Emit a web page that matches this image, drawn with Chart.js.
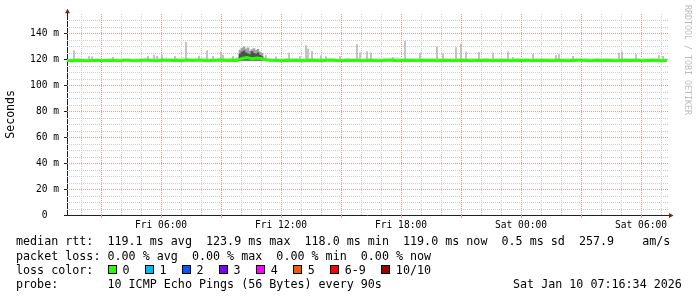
<!DOCTYPE html>
<html>
<head>
<meta charset="utf-8">
<script src="https://cdn.jsdelivr.net/npm/chart.js@4/dist/chart.umd.min.js"></script>
<style>
  body { margin: 0; background: #fff; }
  #wrap { position: relative; width: 697px; height: 297px; font-family: 'DejaVu Sans Mono', monospace; color: #000; }
  #wrap canvas { position: absolute; left: 0; top: 0; }
  .ln { position: absolute; font-size: 11.7px; line-height: 14px; white-space: pre; }
  .box { position: absolute; width: 9px; height: 9px; box-sizing: border-box; border: 1px solid #000; }
  #mark { position: absolute; left: 683px; top: 5px; writing-mode: vertical-rl; font-size: 8.3px; line-height: 9px; color: #bcbcbc; white-space: pre; }
</style>
</head>
<body>
<div id="wrap">
  <canvas id="smoke" width="697" height="297"></canvas>
  <div class="ln" style="left:16px; top:234px">median rtt:  119.1 ms avg  123.9 ms max  118.0 ms min  119.0 ms now  0.5 ms sd  257.9    am/s</div>
  <div class="ln" style="left:16px; top:249px">packet loss: 0.00 % avg  0.00 % max  0.00 % min  0.00 % now</div>
  <div class="ln" style="left:16px; top:263px" id="lossLine">loss color:</div>
  <div class="ln" style="left:16px; top:277px">probe:       10 ICMP Echo Pings (56 Bytes) every 90s</div>
  <div class="ln" style="left:513px; top:277px">Sat Jan 10 07:16:34 2026</div>
  <div id="mark">RRDTOOL / TOBI OETIKER</div>
</div>
<script>
// time axis in hours counted from Fri 00:00
const dayNames = ['Fri', 'Sat'];
const axisStart = 1.3;
const axisEnd = 31.3;

// median rtt (ms), one sample every 15 minutes from axisStart
const sampleStart = 1.3;
const sampleStep = 0.25;
const medianRtt = [
  119.0, 118.9, 119.1, 119.0, 118.8, 119.0, 119.2, 118.9, 119.0, 119.1,
  118.9, 119.0, 119.3, 119.0, 118.8, 119.1, 119.2, 119.0, 118.9, 119.1,
  119.2, 119.0, 119.1, 118.9, 119.3, 119.0, 119.1, 119.2, 118.9, 119.0,
  119.1, 119.3, 119.0, 119.2, 119.1, 120.6, 121.2, 120.4, 121.0, 120.3,
  119.4, 119.1, 119.0, 118.9, 119.1, 119.0, 119.2, 118.8, 119.0, 119.1,
  119.0, 118.9, 119.1, 119.2, 119.0, 118.9, 119.1, 119.0, 119.2, 118.9,
  119.0, 119.1, 118.9, 119.0, 119.2, 119.1, 118.9, 119.0, 119.1, 119.0,
  118.9, 119.1, 119.0, 119.2, 118.9, 119.0, 119.1, 118.8, 119.0, 119.1,
  119.0, 118.9, 119.1, 119.0, 119.2, 118.9, 119.0, 119.1, 119.0, 118.9,
  119.1, 119.0, 119.2, 118.9, 119.0, 119.1, 119.0, 118.8, 119.1, 119.0,
  118.9, 119.0, 119.1, 119.2, 119.0, 118.9, 119.1, 119.0, 119.2, 119.0,
  118.9, 119.1, 119.0, 119.0, 119.2, 118.9, 119.0, 119.1, 119.0, 118.9, 119.0
];
// upper edge of the light smoke band, same sampling
const smokeTop = [
  120.0, 120.2, 120.8, 120.1, 120.3, 120.0, 120.6, 120.2, 120.1, 120.4,
  120.2, 120.5, 120.1, 120.3, 120.7, 121.2, 121.5, 120.9, 121.3, 121.0,
  121.4, 120.8, 121.1, 121.6, 120.9, 121.2, 121.0, 121.5, 121.3, 120.9,
  121.2, 121.4, 121.0, 121.3, 121.6, 122.0, 122.5, 122.0, 122.4, 121.8,
  121.0, 120.8, 121.2, 120.6, 121.0, 121.4, 120.9, 121.1, 121.3, 120.7,
  121.0, 121.2, 120.8, 121.1, 120.6, 120.9, 121.3, 121.0, 120.7, 121.2,
  121.4, 120.8, 121.0, 121.5, 120.9, 121.1, 121.6, 121.0, 120.8, 121.2,
  121.3, 120.9, 121.1, 120.7, 121.4, 121.0, 120.8, 121.2, 120.6, 121.0,
  120.8, 121.1, 120.6, 120.9, 121.2, 120.7, 121.0, 120.8, 120.5, 120.9,
  120.7, 121.0, 120.6, 120.8, 121.1, 120.5, 120.9, 121.2, 120.7, 120.6,
  120.9, 121.0, 120.6, 120.8, 121.1, 120.7, 120.9, 120.5, 120.8, 121.0,
  120.6, 120.9, 121.2, 120.7, 120.8, 121.0, 120.6, 120.9, 121.1, 120.7, 120.8
];
const smokeFloor = 118.2;

// single slow pings (smoke spikes)
const spikeHours = [
  1.65, 2.4, 2.55, 3.6, 5.35, 5.65, 5.8, 6.05, 6.7, 7.25,
  7.9, 8.3, 8.6, 9.0, 9.1, 9.6, 11.25, 11.75, 12.4, 12.95,
  13.25, 13.35, 13.55, 14.0, 14.25, 14.95, 15.8, 15.95, 16.3, 16.5,
  17.6, 18.2, 18.95, 19.8, 20.1, 20.75, 21.0, 21.25, 21.9, 22.6,
  23.35, 23.6, 24.6, 25.75, 25.9, 26.6, 28.9, 29.05, 29.75, 30.9, 31.1
];
const spikeTops = [
  126.6, 122.0, 121.8, 121.5, 122.5, 123.0, 122.4, 123.0, 122.3, 133.0,
  122.5, 126.6, 122.3, 125.5, 123.2, 122.2, 123.0, 121.8, 124.8, 122.0,
  130.4, 128.0, 126.0, 122.7, 122.0, 122.0, 131.2, 125.0, 125.8, 125.0,
  121.5, 133.7, 124.7, 129.6, 124.2, 129.0, 131.7, 125.5, 125.2, 124.7,
  125.6, 121.5, 124.0, 123.0, 123.5, 122.2, 124.7, 125.6, 123.5, 123.0, 122.2
];
const spikeBase = 119.0;

// jittery stretch around Fri 11:00
const burstHours = [9.95, 10.05, 10.15, 10.25, 10.35, 10.45, 10.55, 10.65, 10.75, 10.85, 10.95, 11.05];
const burstOuter = [127.0, 128.5, 129.5, 127.8, 128.8, 126.5, 127.5, 128.2, 126.8, 127.6, 125.5, 124.5];
const burstCore  = [124.0, 125.5, 126.5, 125.0, 124.2, 123.5, 125.8, 124.6, 123.8, 125.0, 123.0, 122.0];
const burstBase = 119.3;

// y axis (ms)
const yMax = 155;
const yStep = 5;
const yLabelEvery = 20;

const lossLabels = ['0', '1', '2', '3', '4', '5', '6-9', '10/10'];
const lossColors = ['#26ff00', '#00b8ff', '#0059ff', '#7e00ff', '#ff00ff', '#ff5500', '#ff0000', '#a10000'];

const minorGrid = '#cccccc';
const majorGrid = '#ea9595';
const axisColor = '#1f1f1f';
const arrowColor = '#801f1f';
const mono = "'DejaVu Sans Mono', monospace";

const sampleHours = medianRtt.map((v, i) => sampleStart + i * sampleStep);
const hourTicks = [];
for (let h = Math.ceil(axisStart); h <= axisEnd; h++) hourTicks.push(h);

// loss colour legend
const lossLine = document.getElementById('lossLine');
let lx = 92;
lossLabels.forEach((lab, i) => {
  const b = document.createElement('span');
  b.className = 'box';
  b.style.left = lx + 'px';
  b.style.top = '2px';
  b.style.background = lossColors[i];
  lossLine.appendChild(b);
  const t = document.createElement('span');
  t.style.position = 'absolute';
  t.style.left = (lx + 14.5) + 'px';
  t.textContent = lab;
  lossLine.appendChild(t);
  lx += 14.5 + lab.length * 7.04 + 15.5;
});

// rrdtool style dotted grid, taken from the scales' own ticks
const dottedGrid = {
  id: 'dottedGrid',
  beforeDatasetsDraw(chart) {
    const {ctx, chartArea: a, scales: {x, y}} = chart;
    ctx.save();
    ctx.lineWidth = 1;
    ctx.setLineDash([1, 1]);
    const minorX = x.ticks.filter(t => t.value % 3 !== 0);
    const majorX = x.ticks.filter(t => t.value % 3 === 0);
    const minorY = y.ticks.filter(t => t.value > 0 && t.value < yMax && t.value % yLabelEvery !== 0);
    const majorY = y.ticks.filter(t => t.value > 0 && t.value < yMax && t.value % yLabelEvery === 0);
    const vLines = (list, color) => {
      ctx.strokeStyle = color;
      ctx.beginPath();
      list.forEach(t => {
        const px = Math.round(x.getPixelForValue(t.value)) + 0.5;
        ctx.moveTo(px, a.bottom); ctx.lineTo(px, a.top);
      });
      ctx.stroke();
    };
    const hLines = (list, color) => {
      ctx.strokeStyle = color;
      ctx.beginPath();
      list.forEach(t => {
        const py = Math.round(y.getPixelForValue(t.value)) + 0.5;
        ctx.moveTo(a.left, py); ctx.lineTo(a.right + 2, py);
      });
      ctx.stroke();
    };
    vLines(minorX, minorGrid);
    hLines(minorY, minorGrid);
    vLines(majorX, majorGrid);
    hLines(majorY, majorGrid);
    ctx.restore();
  }
};

const axisMarks = {
  id: 'axisMarks',
  afterDraw(chart) {
    const {ctx, chartArea: a, scales: {x, y}} = chart;
    ctx.save();
    ctx.lineWidth = 1;
    ctx.strokeStyle = majorGrid;
    x.ticks.forEach(t => {
      if (t.value % 3 === 0) {
        const px = Math.round(x.getPixelForValue(t.value)) + 0.5;
        ctx.beginPath(); ctx.moveTo(px, a.bottom); ctx.lineTo(px, a.bottom + 3); ctx.stroke();
      }
    });
    ctx.strokeStyle = axisColor;
    y.ticks.forEach(t => {
      if (t.value % yLabelEvery === 0) {
        const py = Math.round(y.getPixelForValue(t.value)) + 0.5;
        ctx.beginPath(); ctx.moveTo(a.left - 3, py); ctx.lineTo(a.left, py); ctx.stroke();
      }
    });
    const ax = Math.round(a.left) + 0.5;
    const ay = Math.round(a.bottom) + 0.5;
    ctx.beginPath(); ctx.moveTo(ax, a.top); ctx.lineTo(ax, a.top - 2); ctx.stroke();
    ctx.beginPath(); ctx.moveTo(a.right, ay); ctx.lineTo(a.right + 3, ay); ctx.stroke();
    ctx.fillStyle = arrowColor;
    ctx.beginPath();
    ctx.moveTo(ax - 2.5, a.top - 0.5); ctx.lineTo(ax + 2.5, a.top - 0.5); ctx.lineTo(ax, a.top - 5); ctx.closePath(); ctx.fill();
    ctx.beginPath();
    ctx.moveTo(a.right + 2, ay - 2.5); ctx.lineTo(a.right + 2, ay + 2.5); ctx.lineTo(a.right + 6.5, ay); ctx.closePath(); ctx.fill();
    ctx.restore();
  }
};

new Chart(document.getElementById('smoke'), {
  type: 'line',
  data: {
    datasets: [
      {
        type: 'line',
        data: sampleHours.map((h, i) => ({x: h, y: smokeTop[i]})),
        borderWidth: 0,
        pointRadius: 0,
        backgroundColor: '#e0e0e0',
        fill: {value: smokeFloor},
        order: 5
      },
      {
        type: 'bar',
        data: spikeHours.map((h, i) => ({x: h, y: [spikeBase, spikeTops[i]]})),
        backgroundColor: '#b8b8b8',
        barThickness: 1,
        grouped: false,
        order: 4
      },
      {
        type: 'bar',
        data: burstHours.map((h, i) => ({x: h, y: [burstBase, burstOuter[i]]})),
        backgroundColor: '#a4a4a4',
        barThickness: 2,
        grouped: false,
        order: 3
      },
      {
        type: 'bar',
        data: burstHours.map((h, i) => ({x: h, y: [burstBase, burstCore[i]]})),
        backgroundColor: '#505050',
        barThickness: 2,
        grouped: false,
        order: 2
      },
      {
        type: 'line',
        data: sampleHours.map((h, i) => ({x: h, y: medianRtt[i]})),
        borderColor: '#26ff00',
        borderWidth: 3,
        pointRadius: 0,
        tension: 0,
        fill: false,
        order: 1
      }
    ]
  },
  options: {
    responsive: false,
    animation: false,
    events: [],
    layout: {padding: {top: 13, right: 30, bottom: 0, left: 0}},
    plugins: {legend: {display: false}, tooltip: {enabled: false}},
    scales: {
      x: {
        type: 'linear',
        min: axisStart,
        max: axisEnd,
        offset: false,
        afterFit(scale) { scale.height = 82; },
        afterBuildTicks(scale) { scale.ticks = hourTicks.map(v => ({value: v})); },
        ticks: {
          autoSkip: false,
          maxRotation: 0,
          padding: 5,
          color: '#000',
          font: {family: mono, size: 9.6},
          callback: v => v % 6 === 0
            ? dayNames[Math.floor(v / 24)] + ' ' + String(v % 24).padStart(2, '0') + ':00'
            : ''
        },
        grid: {display: false, offset: false, drawTicks: false},
        border: {display: true, color: axisColor}
      },
      y: {
        min: 0,
        max: yMax,
        afterFit(scale) { scale.width = 67; },
        ticks: {
          stepSize: yStep,
          autoSkip: false,
          padding: 8,
          color: '#000',
          font: {family: mono, size: 9.6},
          callback: v => v % yLabelEvery !== 0 ? '' : (v === 0 ? '0  ' : v + ' m')
        },
        grid: {display: false, drawTicks: false},
        border: {display: true, color: axisColor},
        title: {
          display: true,
          text: 'Seconds',
          color: '#000',
          font: {family: mono, size: 11.6},
          padding: {top: 4, bottom: 0}
        }
      }
    }
  },
  plugins: [dottedGrid, axisMarks]
});
</script>
</body>
</html>
